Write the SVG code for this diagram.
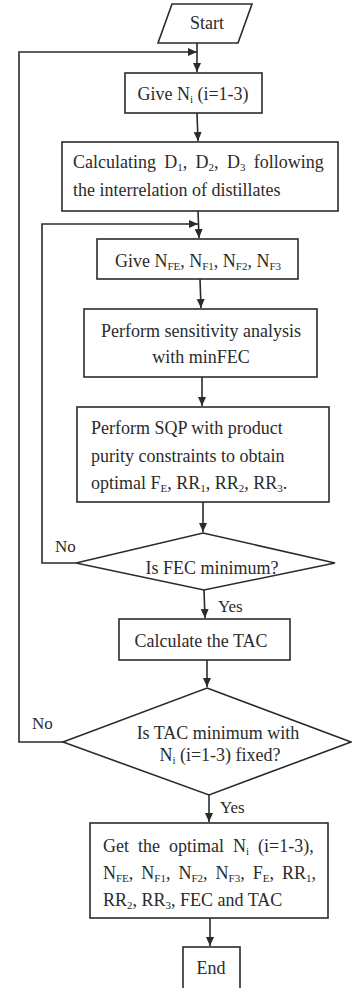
<svg xmlns="http://www.w3.org/2000/svg" width="352" height="988" viewBox="0 0 352 988">
<style>
.s{fill:#fff;stroke:#2b2b2b;stroke-width:1.6}
.c{fill:none;stroke:#2b2b2b;stroke-width:1.6}
text{font-family:"Liberation Serif","Times New Roman",serif;font-size:18px;fill:#2b2b2b}
.m{text-anchor:middle}
.sub{font-size:11px}
.lb{font-size:17px}
</style>
<defs>
<marker id="ah" markerWidth="10" markerHeight="10" refX="9" refY="5" orient="auto" markerUnits="userSpaceOnUse">
<path d="M0,1 L9,5 L0,9 Z" fill="#2b2b2b"/>
</marker>
</defs>
<rect width="352" height="988" fill="#fff"/>
<g id="connectors">
<line class="c" x1="197" y1="43" x2="197" y2="72" marker-end="url(#ah)"/>
<line class="c" x1="197" y1="113" x2="198" y2="141" marker-end="url(#ah)"/>
<line class="c" x1="198" y1="211" x2="199" y2="238" marker-end="url(#ah)"/>
<line class="c" x1="200" y1="279" x2="201" y2="308" marker-end="url(#ah)"/>
<line class="c" x1="202" y1="377" x2="202" y2="406" marker-end="url(#ah)"/>
<line class="c" x1="203" y1="502" x2="203" y2="532" marker-end="url(#ah)"/>
<line class="c" x1="204" y1="590" x2="205" y2="618" marker-end="url(#ah)"/>
<line class="c" x1="207" y1="660" x2="207" y2="687" marker-end="url(#ah)"/>
<line class="c" x1="209" y1="795" x2="209" y2="822" marker-end="url(#ah)"/>
<line class="c" x1="210" y1="918" x2="210" y2="946" marker-end="url(#ah)"/>
<polyline class="c" points="76,563 42,563 42,224 198,224" marker-end="url(#ah)"/>
<polyline class="c" points="63,742 19,742 19,52 197,52" marker-end="url(#ah)"/>
<text x="55" y="552" class="lb">No</text>
<text x="32" y="729" class="lb">No</text>
<text x="218" y="612" class="lb">Yes</text>
<text x="220" y="813" class="lb">Yes</text>
</g>
<g id="start">
<polygon class="s" points="172,4 252,4 238,43 158,43"/>
<text x="207" y="29" class="m">Start</text>
</g>
<g id="give-ni">
<rect class="s" x="125" y="73" width="137" height="40"/>
<text x="193" y="100" class="m">Give N<tspan class="sub" dy="3">i</tspan><tspan dy="-3"> (i=1-3)</tspan></text>
</g>
<g id="calc-d">
<rect class="s" x="62" y="142" width="276" height="69"/>
<text x="73" y="168" word-spacing="3.8">Calculating D<tspan class="sub" dy="3">1</tspan><tspan dy="-3">, D</tspan><tspan class="sub" dy="3">2</tspan><tspan dy="-3">, D</tspan><tspan class="sub" dy="3">3</tspan><tspan dy="-3"> following</tspan></text>
<text x="73" y="196">the interrelation of distillates</text>
</g>
<g id="give-nf">
<rect class="s" x="97" y="239" width="201" height="40"/>
<text x="198" y="267" class="m">Give N<tspan class="sub" dy="3">FE</tspan><tspan dy="-3">, N</tspan><tspan class="sub" dy="3">F1</tspan><tspan dy="-3">, N</tspan><tspan class="sub" dy="3">F2</tspan><tspan dy="-3">, N</tspan><tspan class="sub" dy="3">F3</tspan></text>
</g>
<g id="sensitivity">
<rect class="s" x="84" y="309" width="233" height="68"/>
<text x="201" y="337" class="m">Perform sensitivity analysis</text>
<text x="201" y="363" class="m">with minFEC</text>
</g>
<g id="sqp">
<rect class="s" x="77" y="407" width="252" height="95"/>
<text x="91" y="434">Perform SQP with product</text>
<text x="91" y="462">purity constraints to obtain</text>
<text x="91" y="489">optimal F<tspan class="sub" dy="3">E</tspan><tspan dy="-3">, RR</tspan><tspan class="sub" dy="3">1</tspan><tspan dy="-3">, RR</tspan><tspan class="sub" dy="3">2</tspan><tspan dy="-3">, RR</tspan><tspan class="sub" dy="3">3</tspan><tspan dy="-3">.</tspan></text>
</g>
<g id="fec-decision">
<polygon class="s" points="203,533 335,563 204,590 76,563"/>
<text x="212" y="574" class="m">Is FEC minimum?</text>
</g>
<g id="calc-tac">
<rect class="s" x="119" y="619" width="171" height="41"/>
<text x="201" y="647" class="m">Calculate the TAC</text>
</g>
<g id="tac-decision">
<polygon class="s" points="207,688 351,742 209,795 63,742"/>
<text x="218" y="739" class="m">Is TAC minimum with</text>
<text x="220" y="761" class="m">N<tspan class="sub" dy="3">i</tspan><tspan dy="-3"> (i=1-3) fixed?</tspan></text>
</g>
<g id="result">
<rect class="s" x="90" y="823" width="238" height="95"/>
<text x="103" y="852" word-spacing="4.5">Get the optimal N<tspan class="sub" dy="3">i</tspan><tspan dy="-3"> (i=1-3),</tspan></text>
<text x="103" y="879" word-spacing="3.5">N<tspan class="sub" dy="3">FE</tspan><tspan dy="-3">, N</tspan><tspan class="sub" dy="3">F1</tspan><tspan dy="-3">, N</tspan><tspan class="sub" dy="3">F2</tspan><tspan dy="-3">, N</tspan><tspan class="sub" dy="3">F3</tspan><tspan dy="-3">, F</tspan><tspan class="sub" dy="3">E</tspan><tspan dy="-3">, RR</tspan><tspan class="sub" dy="3">1</tspan><tspan dy="-3">,</tspan></text>
<text x="103" y="906">RR<tspan class="sub" dy="3">2</tspan><tspan dy="-3">, RR</tspan><tspan class="sub" dy="3">3</tspan><tspan dy="-3">, FEC and TAC</tspan></text>
</g>
<g id="end">
<rect class="s" x="183" y="947" width="57" height="45"/>
<text x="211" y="974" class="m">End</text>
</g>
</svg>
